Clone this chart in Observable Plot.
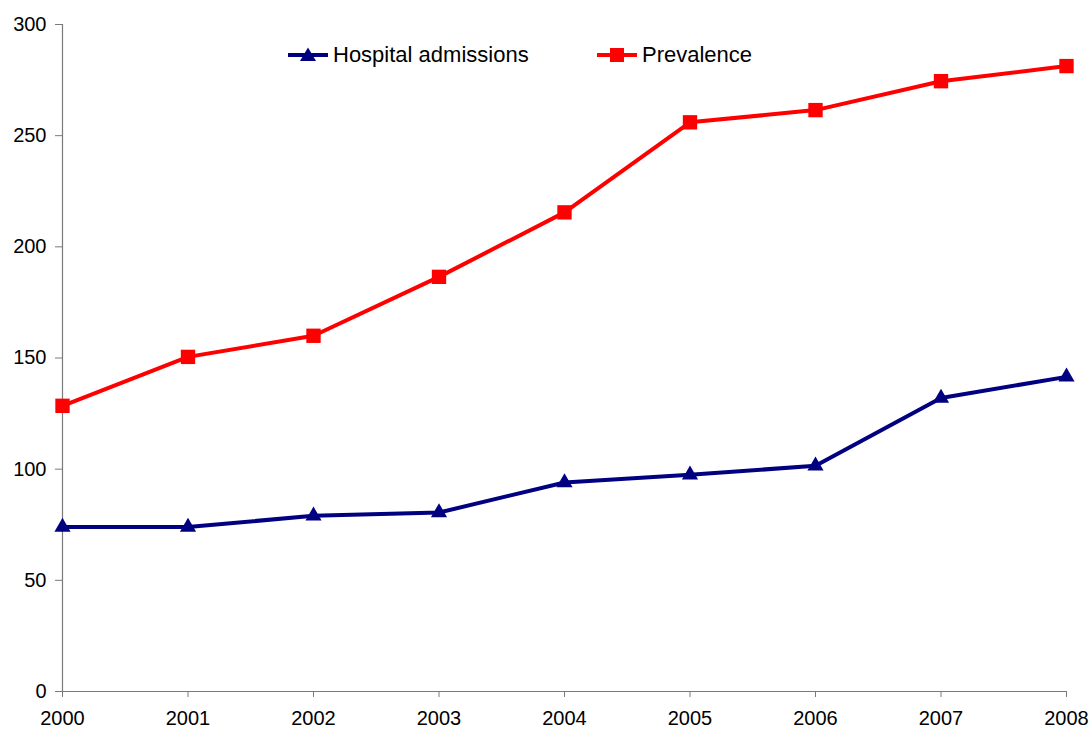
<!DOCTYPE html>
<html>
<head>
<meta charset="utf-8">
<script src="https://cdn.jsdelivr.net/npm/d3@7"></script>
<script src="https://cdn.jsdelivr.net/npm/@observablehq/plot@0.6"></script>
<style>
  html, body { margin: 0; padding: 0; background: #fff; }
  body { font-family: "Liberation Sans", Arial, sans-serif; }
  #wrap { position: relative; width: 1090px; height: 729px; }
  .leg { position: absolute; top: 44px; display: flex; align-items: center; font-size: 22px; color: #000; line-height: 22px; white-space: nowrap; }
  .leg svg { display: block; margin-right: 5px; }
</style>
</head>
<body>
<div id="wrap"></div>
<script>
// ---- data ----
const years = [2000, 2001, 2002, 2003, 2004, 2005, 2006, 2007, 2008];
const hospitalAdmissions = [74, 74, 79, 80.5, 94, 97.5, 101.5, 132, 141.5];
const prevalence = [128.5, 150.5, 160, 186.5, 215.5, 256, 261.5, 274.5, 281.3];
const seriesNames = ["Hospital admissions", "Prevalence"];
const seriesColors = ["#000080", "#FF0000"];
const yTicks = [0, 50, 100, 150, 200, 250, 300];

const data = years.flatMap((yr, i) => [
  { year: yr, value: hospitalAdmissions[i], series: seriesNames[0] },
  { year: yr, value: prevalence[i], series: seriesNames[1] }
]);

const axisGray = "#7a7a7a";
const font = "'Liberation Sans', Arial, sans-serif";

const chart = Plot.plot({
  width: 1090,
  height: 729,
  marginLeft: 62,
  marginRight: 24,
  marginTop: 24,
  marginBottom: 38,
  style: { fontFamily: font, fontSize: "20px", background: "#fff", color: "#000" },
  x: { type: "linear", domain: [years[0], years[years.length - 1]] },
  y: { type: "linear", domain: [yTicks[0], yTicks[yTicks.length - 1]] },
  color: { domain: seriesNames, range: seriesColors },
  marks: [
    Plot.axisY({ ticks: yTicks, tickSize: 7, tickPadding: 9, label: null, stroke: axisGray, fill: "#000", fontSize: 20 }),
    Plot.axisX({ ticks: years, tickFormat: d => String(d), tickSize: 6, tickPadding: 13, label: null, stroke: axisGray, fill: "#000", fontSize: 20 }),
    Plot.ruleX([years[0]], { stroke: axisGray, strokeWidth: 1.2 }),
    Plot.ruleY([yTicks[0]], { stroke: axisGray, strokeWidth: 1.2 }),
    Plot.line(data, { x: "year", y: "value", z: "series", stroke: "series", strokeWidth: 4, strokeLinejoin: "round" }),
    Plot.dot(data.filter(d => d.series === seriesNames[0]), { x: "year", y: "value", symbol: "triangle", fill: seriesColors[0], stroke: "none", r: 6 }),
    Plot.dot(data.filter(d => d.series === seriesNames[1]), { x: "year", y: "value", symbol: "square", fill: seriesColors[1], stroke: "none", r: 8.1 })
  ]
});

const wrap = document.getElementById("wrap");
wrap.appendChild(chart);

// ---- legend (overlay inside the plot area, as in the reference) ----
function legendItem(name, color, kind, left) {
  const div = document.createElement("div");
  div.className = "leg";
  div.style.left = left + "px";
  const marker = kind === "triangle"
    ? `<path d="M20,3.5 L28,17 L12,17 Z" fill="${color}"/>`
    : `<rect x="13" y="4" width="14" height="14" fill="${color}"/>`;
  div.innerHTML = `<svg width="40" height="22" viewBox="0 0 40 22"><line x1="0" y1="11" x2="40" y2="11" stroke="${color}" stroke-width="4"/>${marker}</svg><span>${name}</span>`;
  wrap.appendChild(div);
}
legendItem(seriesNames[0], seriesColors[0], "triangle", 288);
legendItem(seriesNames[1], seriesColors[1], "square", 597);
</script>
</body>
</html>
